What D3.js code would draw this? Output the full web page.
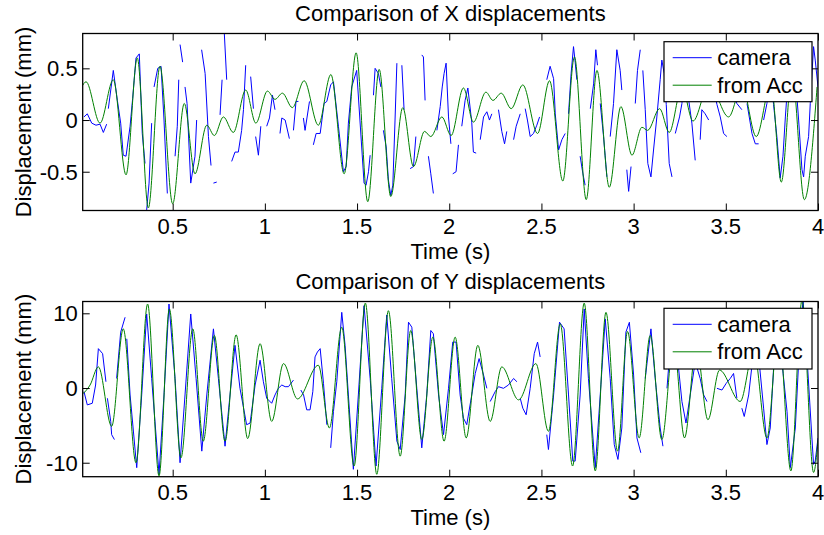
<!DOCTYPE html>
<html>
<head>
<meta charset="utf-8">
<script src="https://cdn.jsdelivr.net/npm/d3@7"></script>
<style>
  html, body { margin: 0; padding: 0; background: #ffffff; }
  svg { display: block; }
  text { font-family: "Liberation Sans", Arial, Helvetica, sans-serif; fill: #000; }
</style>
</head>
<body>
<svg id="chart" width="824" height="535"></svg>
<script>
// ---------------- DATA ----------------
const titles = ["Comparison of X displacements", "Comparison of Y displacements"];
const xLabel = "Time (s)";
const yLabel = "Displacement (mm)";
const legendLabels = ["camera", "from Acc"];
const seriesColors = ["#0000ff", "#008000"];

const xTicks = [0.5, 1, 1.5, 2, 2.5, 3, 3.5, 4];
const xTickLabels = ["0.5", "1", "1.5", "2", "2.5", "3", "3.5", "4"];
const timeDomain = [0.012, 4.0];

const yTicksX = [-0.5, 0, 0.5];
const yTickLabelsX = ["-0.5", "0", "0.5"];
const yDomainX = [-0.875, 0.837];

const yTicksY = [-10, 0, 10];
const yTickLabelsY = ["-10", "0", "10"];
const yDomainY = [-11.87, 11.58];

// X displacement, camera: [time s, mm]; null = missing samples
const xCamera = [
  [0.019,0.03],[0.037,0.06],[0.061,-0.03],[0.084,-0.05],[0.106,-0.04],[0.124,-0.12],[0.142,-0.04],null,
  [0.151,0.11],[0.178,0.48],[0.200,0.19],[0.218,-0.03],[0.232,-0.34],[0.247,-0.35],[0.269,-0.06],[0.283,0.21],[0.301,0.60],[0.319,0.64],[0.335,-0.13],[0.350,-0.42],null,
  [0.359,-0.87],[0.372,-0.61],[0.386,-0.03],null,
  [0.399,0.32],[0.419,0.50],[0.437,0.52],[0.453,0.00],[0.471,-0.71],null,
  [0.513,-0.35],[0.525,-0.06],[0.533,0.39],null,
  [0.540,0.73],[0.554,0.56],null,
  [0.567,0.32],[0.578,0.16],[0.598,-0.61],[0.621,-0.35],[0.630,0.00],null,
  [0.657,0.68],[0.676,0.45],[0.694,-0.16],[0.708,-0.44],null,
  [0.721,-0.61],[0.739,-0.60],null,
  [0.757,0.05],[0.768,0.39],null,
  [0.780,0.84],[0.793,0.39],null,
  [0.820,-0.40],[0.838,-0.31],[0.856,-0.31],[0.874,-0.10],[0.884,0.10],[0.896,0.53],null,
  [0.923,0.42],[0.938,0.11],null,
  [0.950,-0.16],[0.965,-0.34],[0.978,-0.06],null,
  [1.010,-0.06],[1.025,0.02],[1.041,0.24],[1.055,0.10],null,
  [1.082,-0.13],[1.092,0.02],[1.110,0.00],[1.133,-0.18],null,
  [1.155,-0.10],[1.169,0.18],[1.182,0.18],null,
  [1.209,0.02],[1.218,-0.10],[1.242,0.18],null,
  [1.263,-0.24],[1.278,-0.13],[1.300,-0.13],[1.321,0.16],[1.336,0.18],[1.357,0.34],[1.372,0.37],[1.399,-0.06],[1.426,-0.50],[1.441,-0.45],[1.453,-0.03],[1.471,0.32],[1.498,0.48],[1.538,-0.61],[1.549,-0.63],[1.562,-0.50],[1.571,-0.34],null,
  [1.589,0.24],[1.598,0.50],[1.616,0.45],[1.629,0.32],null,
  [1.643,-0.10],[1.658,-0.26],[1.670,-0.58],[1.683,-0.73],[1.694,-0.63],[1.706,0.00],[1.716,0.55],null,
  [1.743,0.53],[1.755,0.10],null,
  [1.788,-0.47],[1.806,-0.45],[1.819,-0.16],null,
  [1.851,0.63],[1.860,0.61],[1.869,0.19],null,
  [1.887,-0.35],[1.900,-0.52],[1.914,-0.71],null,
  [1.933,-0.10],[1.951,0.13],[1.962,0.32],[1.972,0.45],[1.983,0.55],[1.996,0.03],[2.009,-0.23],null,
  [2.019,-0.52],[2.037,-0.50],[2.050,-0.24],null,
  [2.068,-0.06],[2.086,0.19],[2.101,0.31],[2.122,-0.02],[2.131,-0.31],[2.146,-0.32],null,
  [2.168,-0.19],[2.186,0.03],[2.204,0.08],[2.218,0.00],[2.231,0.06],null,
  [2.267,0.10],[2.285,-0.11],[2.300,-0.23],[2.312,-0.11],null,
  [2.349,-0.19],[2.363,-0.06],[2.385,0.06],null,
  [2.412,0.11],[2.424,0.00],[2.439,-0.16],[2.457,-0.13],[2.475,-0.05],[2.490,0.03],null,
  [2.529,0.39],[2.547,0.52],[2.566,0.40],[2.575,0.06],[2.593,-0.29],[2.611,-0.19],[2.629,-0.13],null,
  [2.647,0.06],[2.661,0.45],[2.674,0.71],[2.683,0.56],[2.692,0.39],null,
  [2.710,-0.35],[2.725,-0.52],[2.737,-0.63],null,
  [2.765,0.11],[2.783,0.35],[2.795,0.68],[2.804,0.53],null,
  [2.819,0.16],[2.837,-0.16],[2.855,-0.55],null,
  [2.873,-0.16],[2.891,0.16],[2.909,0.68],[2.927,0.48],[2.936,0.29],null,
  [2.963,-0.48],[2.973,-0.69],[2.986,-0.45],null,
  [3.009,0.16],[3.014,0.29],[3.021,0.48],[3.036,0.68],null,
  [3.050,0.48],[3.063,0.10],[3.077,-0.42],[3.094,-0.55],[3.108,-0.29],[3.126,0.03],[3.144,0.39],[3.153,0.58],[3.166,0.45],[3.177,0.15],[3.193,-0.42],[3.208,-0.55],null,
  [3.226,-0.13],[3.249,0.03],[3.262,0.16],[3.275,0.48],[3.289,0.32],[3.316,-0.03],[3.334,-0.39],null,
  [3.361,-0.19],[3.370,0.10],[3.388,0.06],[3.407,0.00],null,
  [3.430,0.32],[3.452,0.15],[3.470,0.03],[3.488,-0.13],[3.506,-0.16],null,
  [3.533,0.32],[3.560,0.16],[3.587,0.10],null,
  [3.615,0.16],[3.642,-0.13],[3.660,-0.23],[3.678,-0.23],null,
  [3.705,0.00],[3.723,0.16],[3.741,0.48],[3.759,0.15],[3.777,-0.16],[3.795,-0.56],[3.810,-0.35],[3.823,0.03],[3.841,0.48],[3.868,0.65],[3.895,0.00],[3.913,-0.48],[3.922,-0.55],[3.931,-0.35],[3.949,-0.16],[3.958,0.16],[3.976,0.71],[3.985,0.58],[4.000,0.32]
];

// X displacement, from accelerometer: [time s, mm] (turning points of the trace)
const xAcc = [
  [0.007,0.32],[0.030,0.37],[0.106,-0.03],[0.178,0.39],[0.247,-0.53],[0.308,0.60],[0.368,-0.85],[0.431,0.52],[0.500,-0.81],[0.563,0.16],
  [0.621,-0.52],[0.685,-0.05],[0.726,-0.15],[0.775,0.03],[0.829,-0.12],[0.896,0.29],[0.951,-0.03],[1.014,0.28],[1.055,0.20],[1.095,0.26],
  [1.149,0.12],[1.213,0.38],[1.290,-0.05],[1.358,0.44],[1.430,-0.52],[1.495,0.65],[1.558,-0.79],[1.620,0.49],[1.683,-0.74],[1.748,0.12],
  [1.806,-0.45],[1.866,-0.11],[1.900,-0.16],[1.960,0.03],[2.010,-0.15],[2.077,0.31],[2.131,-0.02],[2.199,0.27],[2.237,0.19],[2.282,0.26],
  [2.336,0.11],[2.399,0.34],[2.479,-0.13],[2.544,0.38],[2.616,-0.59],[2.679,0.61],[2.743,-0.77],[2.801,0.48],[2.868,-0.65],[2.931,0.13],
  [2.991,-0.34],[3.045,-0.07],[3.076,-0.10],[3.141,0.11],[3.193,-0.12],[3.262,0.32],[3.322,-0.01],[3.410,0.35],[3.515,0.03],[3.588,0.33],
  [3.665,-0.16],[3.745,0.35],[3.801,-0.60],[3.859,0.45],[3.926,-0.77],[3.995,0.32]
];

// Y displacement, camera
const yCamera = [
  [0.019,-0.49],[0.037,-2.26],[0.064,-2.04],[0.082,0.40],[0.097,5.27],[0.120,4.60],[0.138,0.84],null,
  [0.146,-1.37],[0.164,-4.47],[0.169,-6.24],[0.184,-6.90],null,
  [0.196,1.28],[0.218,7.48],[0.242,9.47],null,
  [0.251,6.59],[0.269,-0.93],[0.305,-10.66],[0.332,-0.93],[0.359,9.91],[0.386,1.28],[0.426,-11.55],[0.453,-0.93],[0.480,11.24],[0.513,1.28],
  [0.540,-10.0],[0.567,-0.93],[0.598,9.91],[0.627,1.28],[0.658,-8.45],[0.685,-0.93],[0.721,7.92],[0.748,1.28],[0.784,-7.79],[0.811,-0.93],
  [0.838,5.71],[0.865,-0.04],[0.901,-4.91],[0.920,-4.69],[0.947,0.40],[0.974,3.72],[0.992,0.84],[1.010,-1.37],[1.037,-2.04],[1.055,-0.93],
  [1.073,-0.04],[1.092,0.40],[1.110,0.18],[1.128,0.18],[1.155,1.06],null,
  [1.195,-0.27],[1.210,-0.93],[1.227,-2.92],[1.245,-2.92],[1.260,-0.49],[1.272,4.16],[1.285,4.82],[1.300,5.27],[1.318,0.62],[1.336,-4.91],null,
  [1.357,-8.01],[1.372,-3.14],[1.390,0.84],[1.417,10.13],[1.435,5.71],[1.453,-0.93],[1.480,-10.88],[1.507,-0.93],[1.538,11.02],[1.571,1.28],
  [1.603,-10.44],[1.634,-0.04],[1.661,9.78],[1.688,1.28],[1.716,-7.12],[1.734,-8.23],[1.761,-0.93],[1.779,8.81],[1.797,8.14],[1.824,-0.04],
  [1.851,-8.01],[1.878,-0.93],[1.900,7.70],[1.914,7.26],[1.942,-0.93],[1.969,-6.24],[1.996,-0.04],[2.019,6.15],[2.037,6.15],[2.059,-0.93],
  [2.077,-4.03],[2.095,-4.91],[2.122,-0.93],[2.141,1.95],[2.162,3.94],[2.186,1.73],[2.204,-0.04],null,
  [2.222,-1.81],[2.249,-0.49],[2.267,0.18],[2.294,-0.04],[2.321,0.40],[2.349,1.28],[2.367,0.84],null,
  [2.385,-1.37],[2.399,-2.70],[2.417,-3.58],[2.439,-0.04],[2.461,4.60],[2.479,6.15],[2.493,4.16],null,
  [2.529,-6.24],[2.538,-8.23],[2.566,-0.93],[2.598,8.81],[2.623,7.92],[2.647,-0.93],[2.670,-9.78],[2.683,-9.78],[2.710,-0.93],[2.732,10.58],
  [2.755,1.28],[2.792,-10.66],[2.819,-0.93],[2.846,9.25],[2.873,1.28],[2.895,-7.57],[2.915,-9.56],[2.936,-5.35],[2.958,7.48],[2.977,8.80],
  [3.000,1.73],[3.018,-6.68],[3.039,-8.67],null,
  [3.063,1.28],[3.094,7.92],[3.117,1.28],[3.144,-5.35],[3.159,-7.79],null,
  [3.181,-0.04],[3.199,5.71],[3.226,7.00],[3.262,-1.81],[3.284,-4.69],[3.307,-0.93],[3.334,3.50],[3.361,1.28],[3.380,-0.93],[3.398,-1.81],null,
  [3.452,-0.04],[3.479,-0.27],[3.502,0.62],[3.524,1.28],[3.542,1.95],[3.560,-1.37],null,
  [3.587,-2.70],[3.600,-3.81],[3.624,-0.93],[3.642,3.05],[3.669,6.60],[3.705,-2.70],[3.723,-7.57],[3.741,-5.35],[3.759,2.61],[3.786,7.90],
  [3.832,-3.14],[3.850,-10.66],[3.877,-5.35],[3.904,7.92],[3.919,11.68],[3.931,7.92],[3.967,-6.68],[3.976,-10.22],[3.985,-9.78],[4.000,-6.68]
];

// Y displacement, from accelerometer (turning points of the trace)
const yAcc = [
  [0.006,-0.93],[0.052,0.40],[0.097,2.83],[0.169,-5.13],[0.232,7.92],[0.301,-10.0],[0.364,11.24],[0.426,-11.77],[0.482,10.58],[0.545,-9.34],
  [0.609,7.92],[0.666,-7.12],[0.726,7.04],[0.784,-7.12],[0.844,7.12],[0.907,-6.77],[0.974,5.93],[1.037,-4.47],[1.101,3.27],[1.177,-1.46],
  [1.290,3.05],[1.350,-5.35],[1.417,8.14],[1.484,-10.44],[1.545,11.37],[1.607,-11.55],[1.670,10.35],[1.734,-9.12],[1.791,7.70],[1.851,-6.90],
  [1.911,6.81],[1.972,-7.12],[2.032,6.81],[2.092,-6.68],[2.155,5.71],[2.222,-4.47],[2.285,2.83],[2.376,-1.59],[2.470,3.27],[2.538,-5.80],
  [2.602,8.58],[2.669,-10.44],[2.732,11.37],[2.792,-11.10],[2.850,10.13],[2.913,-8.45],[2.967,7.57],[3.030,-6.68],[3.090,7.04],[3.153,-6.90],
  [3.217,6.00],[3.276,-6.68],[3.340,5.50],[3.403,-4.25],[3.466,2.40],[3.578,-1.80],[3.651,5.00],[3.723,-6.68],[3.786,8.00],[3.853,-11.10],
  [3.913,11.70],[3.976,-11.30],[4.000,-7.00]
];

// ---------------- DRAWING ----------------
const svg = d3.select("#chart");
const FONT = 22;

const panels = [
  { title: titles[0], camera: xCamera, acc: xAcc, yDomain: yDomainX, yTicks: yTicksX, yTickLabels: yTickLabelsX,
    left: 82.7, right: 818, top: 33.5, bottom: 210.5, legend: { x: 664, y: 41.7, w: 148, h: 60 } },
  { title: titles[1], camera: yCamera, acc: yAcc, yDomain: yDomainY, yTicks: yTicksY, yTickLabels: yTickLabelsY,
    left: 82.7, right: 818, top: 301.5, bottom: 476.7, legend: { x: 664, y: 308.3, w: 148, h: 60.7 } }
];

panels.forEach((p, i) => {
  const g = svg.append("g");
  const x = d3.scaleLinear().domain(timeDomain).range([p.left, p.right]);
  const y = d3.scaleLinear().domain(p.yDomain).range([p.bottom, p.top]);

  const clipId = "clip" + i;
  svg.append("defs").append("clipPath").attr("id", clipId)
    .append("rect").attr("x", p.left).attr("y", p.top)
    .attr("width", p.right - p.left).attr("height", p.bottom - p.top);

  g.append("rect").attr("x", p.left).attr("y", p.top)
    .attr("width", p.right - p.left).attr("height", p.bottom - p.top)
    .attr("fill", "#fff");

  const plot = g.append("g").attr("clip-path", `url(#${clipId})`);

  const camLine = d3.line().defined(d => d !== null)
    .x(d => x(d[0])).y(d => y(d[1]));
  const accLine = d3.line().curve(d3.curveMonotoneX)
    .x(d => x(d[0])).y(d => y(d[1]));

  plot.append("path").datum(p.camera).attr("d", camLine)
    .attr("fill", "none").attr("stroke", seriesColors[0]).attr("stroke-width", 1);
  plot.append("path").datum(p.acc).attr("d", accLine)
    .attr("fill", "none").attr("stroke", seriesColors[1]).attr("stroke-width", 1);

  // axes (inward ticks on all four sides)
  const tickLen = 7;
  const axB = d3.axisBottom(x).tickValues(xTicks).tickSize(-tickLen).tickFormat("");
  const axT = d3.axisTop(x).tickValues(xTicks).tickSize(-tickLen).tickFormat("");
  const axL = d3.axisLeft(y).tickValues(p.yTicks).tickSize(-tickLen).tickFormat("");
  const axR = d3.axisRight(y).tickValues(p.yTicks).tickSize(-tickLen).tickFormat("");
  [[axB, `translate(0,${p.bottom})`], [axT, `translate(0,${p.top})`],
   [axL, `translate(${p.left},0)`], [axR, `translate(${p.right},0)`]].forEach(([ax, tr]) => {
    const a = g.append("g").attr("transform", tr).call(ax);
    a.select(".domain").remove();
    a.selectAll(".tick line").attr("stroke", "#000").attr("stroke-width", 1);
  });

  g.append("rect").attr("x", p.left).attr("y", p.top)
    .attr("width", p.right - p.left).attr("height", p.bottom - p.top)
    .attr("fill", "none").attr("stroke", "#000").attr("stroke-width", 1.3);

  // tick labels
  g.selectAll(".xtl").data(xTicks).enter().append("text")
    .attr("x", d => x(d)).attr("y", p.bottom + 23.5)
    .attr("text-anchor", "middle").attr("font-size", FONT)
    .text((d, k) => xTickLabels[k]);
  g.selectAll(".ytl").data(p.yTicks).enter().append("text")
    .attr("x", p.left - 5).attr("y", d => y(d)).attr("dy", "0.36em")
    .attr("text-anchor", "end").attr("font-size", FONT)
    .text((d, k) => p.yTickLabels[k]);

  // labels and title
  const cx = (p.left + p.right) / 2;
  g.append("text").attr("x", cx).attr("y", p.bottom + 48)
    .attr("text-anchor", "middle").attr("font-size", FONT).text(xLabel);
  g.append("text").attr("x", cx).attr("y", p.top - 12.5)
    .attr("text-anchor", "middle").attr("font-size", FONT).text(p.title);
  g.append("text")
    .attr("transform", `translate(30.5,${(p.top + p.bottom) / 2}) rotate(-90)`)
    .attr("text-anchor", "middle").attr("font-size", FONT).text(yLabel);

  // legend
  const L = p.legend;
  const lg = g.append("g");
  lg.append("rect").attr("x", L.x).attr("y", L.y).attr("width", L.w).attr("height", L.h)
    .attr("fill", "#fff").attr("stroke", "#000").attr("stroke-width", 1.2);
  const rowY = [L.y + 16, L.y + 43.5];
  legendLabels.forEach((lab, k) => {
    lg.append("line").attr("x1", L.x + 8.7).attr("x2", L.x + 47.7)
      .attr("y1", rowY[k]).attr("y2", rowY[k])
      .attr("stroke", seriesColors[k]).attr("stroke-width", 1);
    lg.append("text").attr("x", L.x + 53.3).attr("y", rowY[k]).attr("dy", "0.34em")
      .attr("font-size", FONT).text(lab);
  });
});
</script>
</body>
</html>
